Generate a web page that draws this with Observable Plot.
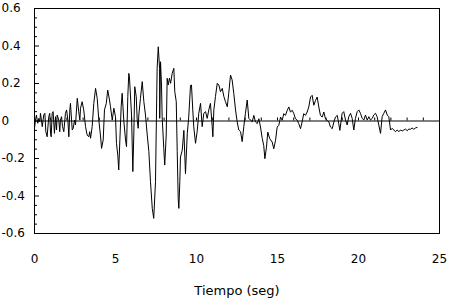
<!DOCTYPE html>
<html>
<head>
<meta charset="utf-8">
<script src="https://cdn.jsdelivr.net/npm/d3@7"></script>
<script src="https://cdn.jsdelivr.net/npm/@observablehq/plot@0.6"></script>
<style>
  html, body { margin: 0; padding: 0; background: #fff; }
</style>
</head>
<body>
<div id="chart"></div>
<script>
// Tiempo (s)
const tiempo = [
  0.00,0.06,0.12,0.20,0.27,0.33,0.37,0.48,0.57,0.64,0.70,0.78,0.88,0.94,0.99,1.03,1.09,1.15,1.23,1.30,
  1.36,1.40,1.50,1.56,1.60,1.67,1.73,1.81,1.91,1.98,2.06,2.12,2.18,2.22,2.33,2.39,2.47,2.53,2.64,2.73,
  2.80,2.84,2.94,3.04,3.15,3.25,3.35,3.41,3.46,3.56,3.66,3.77,3.87,3.97,4.07,4.14,4.24,4.32,4.43,4.52,
  4.63,4.69,4.80,4.90,5.00,5.06,5.14,5.20,5.27,5.35,5.41,5.51,5.62,5.68,5.76,5.82,
  5.86,5.99,6.07,6.13,6.19,6.28,6.34,6.40,6.44,6.54,6.65,6.75,6.85,6.96,7.06,7.16,7.27,7.36,7.47,7.51,
  7.57,7.64,7.72,7.73,7.78,7.84,7.88,7.98,8.04,8.13,8.19,8.25,8.33,8.40,8.50,8.60,8.66,8.75,8.81,8.87,
  8.91,8.97,
  9.01,9.12,9.22,9.32,9.43,9.52,9.63,9.69,9.77,9.83,9.94,10.04,10.14,10.25,10.35,10.45,10.56,10.66,10.76,10.86,
  10.97,11.01,11.07,11.17,11.28,11.38,11.48,11.59,11.69,11.79,11.90,11.99,12.10,12.20,12.30,12.41,12.51,12.61,12.72,12.82,
  12.92,13.02,13.13,13.23,13.33,13.44,
  13.54,13.64,13.75,13.85,13.95,14.06,14.15,14.22,14.32,14.40,14.52,14.67,14.77,14.88,14.98,15.08,15.19,15.29,15.39,15.49,
  15.60,15.70,15.80,15.91,16.01,16.11,16.22,16.31,16.42,16.52,16.62,16.73,16.83,16.93,17.04,17.14,17.24,17.35,17.45,17.55,
  17.65,17.76,17.86,17.96,18.07,18.17,18.27,18.38,18.48,18.58,18.69,18.78,18.85,
  18.99,19.09,19.20,19.30,19.40,19.51,19.61,19.71,19.81,19.92,20.02,20.12,20.23,20.33,20.43,20.54,20.64,20.74,20.85,20.94,
  21.05,21.15,21.25,21.36,21.46,21.56,21.67,21.77,21.87,21.98,22.08,22.18,22.28,22.39,22.49,22.59,22.70,22.80,22.90,23.01,
  23.10,23.21,23.31,23.41,23.52,23.62
];
// Aceleración (g)
const aceleracion = [
  -0.039,0.005,0.032,-0.012,0.014,-0.004,0.041,-0.030,0.032,0.041,-0.057,-0.084,0.023,0.041,-0.066,-0.084,0.041,0.050,-0.066,0.023,
  -0.048,0.032,0.005,-0.057,0.005,0.023,-0.030,-0.057,0.041,0.059,0.005,-0.084,0.059,0.094,-0.048,-0.039,0.005,-0.021,0.121,0.050,
  0.005,0.068,0.103,0.059,-0.030,-0.075,-0.084,-0.057,-0.092,-0.030,0.094,0.174,0.121,0.005,-0.075,-0.146,-0.101,0.059,0.094,0.165,
  0.112,0.076,0.005,0.068,0.023,-0.119,-0.181,-0.261,-0.101,0.076,0.148,0.005,-0.101,-0.137,0.130,0.254,
  0.236,0.032,-0.270,-0.075,0.183,0.130,0.005,-0.039,0.032,0.121,0.210,0.103,0.032,-0.075,-0.164,-0.324,-0.466,-0.519,-0.324,-0.075,
  0.281,0.396,0.281,0.014,0.316,0.192,0.023,-0.146,-0.235,-0.075,0.228,0.192,0.228,0.201,0.254,0.281,0.156,0.103,-0.164,-0.412,
  -0.466,-0.324,
  -0.192,-0.156,-0.050,-0.281,-0.068,0.021,0.190,0.192,0.059,-0.030,-0.119,-0.057,0.041,0.094,-0.030,0.041,0.050,0.014,0.059,0.094,
  -0.030,-0.084,0.059,0.130,0.201,0.192,0.156,0.174,0.130,0.103,0.076,0.148,0.245,0.219,0.148,0.059,-0.004,-0.048,-0.057,-0.110,
  -0.030,0.041,0.112,0.014,0.005,-0.004,
  0.030,-0.005,-0.014,0.012,-0.032,-0.094,-0.130,-0.201,-0.139,-0.059,-0.094,-0.112,-0.148,-0.103,-0.032,-0.023,0.021,0.004,0.039,0.030,
  0.057,0.075,0.048,0.057,0.039,0.012,0.004,-0.014,-0.041,-0.005,0.039,0.030,0.048,0.075,0.128,0.137,0.084,0.110,0.128,0.075,
  0.030,0.021,0.048,0.012,0.004,-0.005,-0.032,-0.041,-0.005,0.021,0.030,-0.014,-0.050,
  0.041,0.050,0.005,-0.021,0.023,0.041,0.014,-0.048,0.014,0.050,0.059,0.041,0.014,0.005,0.032,0.005,0.023,0.005,0.014,0.032,
  0.041,0.023,-0.021,-0.066,0.023,0.041,0.059,0.032,0.023,-0.048,-0.039,-0.048,-0.057,-0.048,-0.057,-0.048,-0.053,-0.048,-0.043,-0.052,
  -0.043,-0.044,-0.037,-0.044,-0.037,-0.034
];

// Axis ticks
const xTicks = [0, 5, 10, 15, 20, 25];
const yTicks = [-0.6, -0.4, -0.2, 0, 0.2, 0.4, 0.6];
const yMinorTicks = [-0.55,-0.5,-0.45,-0.35,-0.3,-0.25,-0.15,-0.1,-0.05,0.05,0.1,0.15,0.25,0.3,0.35,0.45,0.5,0.55];
const zeroLineTicks = [1,2,3,4,5,6,7,8,9,10,11,12,13,14,15,16,17,18,19,20,21,22,23,24];
const xLabel = "Tiempo (seg)";

const data = tiempo.map((t, i) => ({t, a: aceleracion[i]}));
const fmt = d => (d === 0 ? "0" : d.toFixed(1));

const chart = Plot.plot({
  width: 451,
  height: 301,
  marginLeft: 34,
  marginRight: 12,
  marginTop: 8,
  marginBottom: 68,
  x: {domain: [0, 25]},
  y: {domain: [-0.6, 0.6]},
  style: {fontFamily: "DejaVu Sans", fontSize: "12px", color: "black", background: "white", overflow: "visible"},
  marks: [
    Plot.ruleY([0], {stroke: "black", strokeWidth: 1}),
    Plot.ruleX(zeroLineTicks, {x: d => d, y1: 0, y2: 0, insetTop: -3, stroke: "black"}),
    Plot.line(data, {x: "t", y: "a", stroke: "black", strokeWidth: 1}),
    Plot.frame({stroke: "black", strokeWidth: 1}),
    Plot.axisY(yMinorTicks, {tickSize: -3, fill: "none", label: null}),
    Plot.axisY(yTicks, {tickSize: -5, fill: "none", label: null}),
    Plot.axisY(yTicks, {tickSize: 0, tickPadding: 0, textAnchor: "start", dx: -33, tickFormat: fmt, label: null, fontSize: 12}),
    Plot.axisX(xTicks, {tickSize: 0, tickPadding: 21, tickFormat: d => String(d), fontSize: 12, label: null}),
    Plot.text([xLabel], {text: d => d, frameAnchor: "bottom", dy: 61, fontSize: 13, fill: "black"})
  ]
});
document.getElementById("chart").appendChild(chart);
</script>
</body>
</html>
